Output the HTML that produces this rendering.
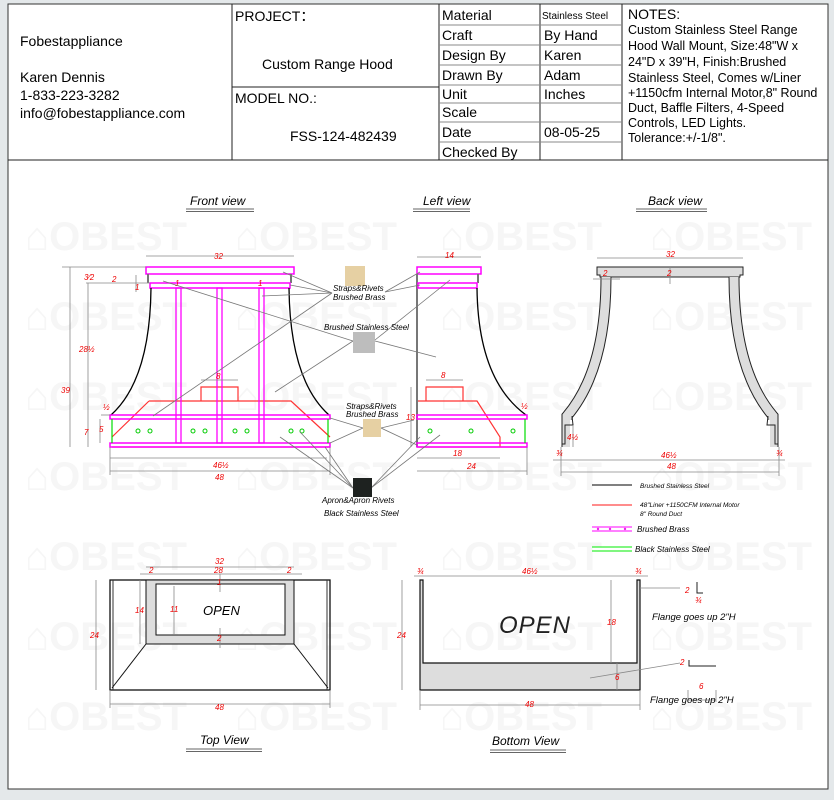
<!DOCTYPE html>
<html><head><meta charset="utf-8"><style>
html,body{margin:0;padding:0;background:#e4e8ea;}
svg{display:block}
.h{font-family:"Liberation Sans",sans-serif;font-size:14px;fill:#000}
.n{font-family:"Liberation Sans",sans-serif;font-size:12.5px;fill:#000}
.r{font-family:"Liberation Sans",sans-serif;font-size:8px;fill:#e00;font-style:italic}
.l{font-family:"Liberation Sans",sans-serif;font-size:8px;fill:#000;font-style:italic}
.t{font-family:"Liberation Sans",sans-serif;font-size:12px;fill:#000;font-style:italic}
.w{font-family:"Liberation Sans",sans-serif;font-size:40px;fill:#f6f6f6;font-weight:bold}
</style></head><body>
<svg width="834" height="800" viewBox="0 0 834 800" xmlns="http://www.w3.org/2000/svg">
<rect x="0" y="0" width="834" height="800" fill="#e4e8ea"/>
<rect x="8" y="4" width="820" height="785" fill="#fff" stroke="#333" stroke-width="1"/>
<g class="w">
<text x="25" y="250">⌂OBEST</text><text x="235" y="250">⌂OBEST</text><text x="440" y="250">⌂OBEST</text><text x="650" y="250">⌂OBEST</text>
<text x="25" y="330">⌂OBEST</text><text x="235" y="330">⌂OBEST</text><text x="440" y="330">⌂OBEST</text><text x="650" y="330">⌂OBEST</text>
<text x="25" y="410">⌂OBEST</text><text x="235" y="410">⌂OBEST</text><text x="440" y="410">⌂OBEST</text><text x="650" y="410">⌂OBEST</text>
<text x="25" y="490">⌂OBEST</text><text x="235" y="490">⌂OBEST</text><text x="440" y="490">⌂OBEST</text><text x="650" y="490">⌂OBEST</text>
<text x="25" y="570">⌂OBEST</text><text x="235" y="570">⌂OBEST</text><text x="440" y="570">⌂OBEST</text><text x="650" y="570">⌂OBEST</text>
<text x="25" y="650">⌂OBEST</text><text x="235" y="650">⌂OBEST</text><text x="440" y="650">⌂OBEST</text><text x="650" y="650">⌂OBEST</text>
<text x="25" y="730">⌂OBEST</text><text x="235" y="730">⌂OBEST</text><text x="440" y="730">⌂OBEST</text><text x="650" y="730">⌂OBEST</text>
</g>
<g stroke="#222" stroke-width="1" fill="none">
<line x1="8" y1="160" x2="828" y2="160"/>
<line x1="232" y1="4" x2="232" y2="160"/>
<line x1="439" y1="4" x2="439" y2="160"/>
<line x1="540" y1="4" x2="540" y2="160"/>
<line x1="622" y1="4" x2="622" y2="160"/>
<line x1="232" y1="87" x2="439" y2="87"/>
<g stroke="#888"><line x1="439" y1="25" x2="622" y2="25"/><line x1="439" y1="45" x2="622" y2="45"/><line x1="439" y1="65" x2="622" y2="65"/><line x1="439" y1="85" x2="622" y2="85"/><line x1="439" y1="103" x2="622" y2="103"/><line x1="439" y1="122" x2="622" y2="122"/><line x1="439" y1="142" x2="622" y2="142"/></g>
</g>
<text class="h" x="20" y="46">Fobestappliance</text>
<text class="h" x="20" y="82">Karen Dennis</text>
<text class="h" x="20" y="100">1-833-223-3282</text>
<text class="h" x="20" y="118">info@fobestappliance.com</text>
<text class="h" x="235" y="21">PROJECT：</text>
<text class="h" x="262" y="69">Custom Range Hood</text>
<text class="h" x="235" y="103">MODEL NO.:</text>
<text class="h" x="290" y="141">FSS-124-482439</text>
<g class="h"><text x="442" y="20">Material</text><text x="442" y="40">Craft</text><text x="442" y="60">Design By</text><text x="442" y="80">Drawn By</text><text x="442" y="99">Unit</text><text x="442" y="117">Scale</text><text x="442" y="137">Date</text><text x="442" y="157">Checked By</text>
<text x="544" y="40">By Hand</text><text x="544" y="60">Karen</text><text x="544" y="80">Adam</text><text x="544" y="99">Inches</text><text x="544" y="137">08-05-25</text></g>
<text x="542" y="19" font-family="Liberation Sans,sans-serif" font-size="10">Stainless Steel</text>
<text class="h" x="628" y="19">NOTES:</text>
<g class="n"><text x="628" y="34">Custom Stainless Steel Range</text><text x="628" y="50">Hood Wall Mount, Size:48"W x</text><text x="628" y="66">24"D x 39"H, Finish:Brushed</text><text x="628" y="82">Stainless Steel, Comes w/Liner</text><text x="628" y="97">+1150cfm Internal Motor,8" Round</text><text x="628" y="112">Duct, Baffle Filters, 4-Speed</text><text x="628" y="127">Controls, LED Lights.</text><text x="628" y="142">Tolerance:+/-1/8".</text></g>
<g class="t"><text x="190" y="205">Front view</text><text x="423" y="205">Left view</text><text x="648" y="205">Back view</text><text x="200" y="744">Top View</text><text x="492" y="745">Bottom View</text></g>
<g stroke="#333" stroke-width="0.8"><line x1="186" y1="209" x2="254" y2="209"/><line x1="186" y1="211.5" x2="254" y2="211.5"/><line x1="413" y1="209" x2="470" y2="209"/><line x1="413" y1="211.5" x2="470" y2="211.5"/><line x1="636" y1="209" x2="707" y2="209"/><line x1="636" y1="211.5" x2="707" y2="211.5"/><line x1="186" y1="749" x2="262" y2="749"/><line x1="186" y1="751.5" x2="262" y2="751.5"/><line x1="490" y1="750" x2="566" y2="750"/><line x1="490" y1="752.5" x2="566" y2="752.5"/></g>
<g fill="none">
<rect x="146" y="267" width="148" height="7" stroke="#f0f" stroke-width="1.5"/>
<line x1="148" y1="274" x2="148" y2="283" stroke="#777" stroke-width="2"/><line x1="291" y1="274" x2="291" y2="283" stroke="#777" stroke-width="2"/>
<rect x="150" y="283" width="140" height="5" stroke="#f0f" stroke-width="1.5"/>
<path d="M151 288 Q150 380 111 415" stroke="#000" stroke-width="1.3"/>
<path d="M289 288 Q290 380 329 415" stroke="#000" stroke-width="1.3"/>
<path d="M149 401 L291 401 L330 437 M149 401 L112 437 M201 401 L201 387 L238 387 L238 401 M112 447 L330 447" stroke="#f33" stroke-width="1.2"/>
<rect x="176" y="288" width="5" height="155" stroke="#f0f" stroke-width="1.3"/>
<rect x="217" y="288" width="5" height="155" stroke="#f0f" stroke-width="1.3"/>
<rect x="259" y="288" width="5" height="155" stroke="#f0f" stroke-width="1.3"/>
<rect x="110" y="415" width="220" height="4" stroke="#f0f" stroke-width="1.5"/>
<rect x="110" y="443" width="220" height="4" stroke="#f0f" stroke-width="1.5"/>
<line x1="112" y1="419" x2="112" y2="443" stroke="#0d0" stroke-width="1.2"/><line x1="328" y1="419" x2="328" y2="443" stroke="#0d0" stroke-width="1.2"/>
<g stroke="#0c0"><circle cx="138" cy="431" r="2"/><circle cx="150" cy="431" r="2"/><circle cx="193" cy="431" r="2"/><circle cx="205" cy="431" r="2"/><circle cx="235" cy="431" r="2"/><circle cx="247" cy="431" r="2"/><circle cx="291" cy="431" r="2"/><circle cx="302" cy="431" r="2"/></g>
<g stroke="#888" stroke-width="0.8"><line x1="146" y1="256" x2="294" y2="256"/><line x1="110" y1="458" x2="327" y2="458"/><line x1="110" y1="471" x2="330" y2="471"/><line x1="110" y1="447" x2="110" y2="475"/><line x1="330" y1="447" x2="330" y2="475"/><line x1="70" y1="267" x2="70" y2="447"/><line x1="62" y1="267" x2="146" y2="267"/><line x1="88" y1="283" x2="88" y2="447"/><line x1="86" y1="283" x2="150" y2="283"/><line x1="101" y1="415" x2="110" y2="415"/><line x1="100" y1="419" x2="100" y2="443"/><line x1="201" y1="380" x2="238" y2="380"/><line x1="136" y1="275" x2="136" y2="292"/></g>
</g>
<g class="r"><text x="214" y="259">32</text><text x="213" y="468">46½</text><text x="215" y="480">48</text><text x="61" y="393">39</text><text x="79" y="352">28½</text><text x="84" y="280">3⁄2</text><text x="112" y="282">2</text><text x="135" y="290">1</text><text x="175" y="286">1</text><text x="258" y="286">1</text><text x="216" y="379">8</text><text x="103" y="410">½</text><text x="99" y="432">5</text><text x="84" y="435">7</text></g>
<g fill="none">
<rect x="417" y="267" width="64" height="7" stroke="#f0f" stroke-width="1.5"/>
<line x1="417" y1="274" x2="417" y2="447" stroke="#777" stroke-width="2"/><line x1="478" y1="274" x2="478" y2="283" stroke="#777" stroke-width="2"/>
<rect x="418" y="283" width="59" height="5" stroke="#f0f" stroke-width="1.5"/>
<path d="M477 288 Q478 380 526 415" stroke="#000" stroke-width="1.3"/>
<path d="M418 401 L477 401 L500 437 L500 447 M426 401 L426 387 L463 387 L463 401 M417 447 L527 447" stroke="#f33" stroke-width="1.2"/>
<rect x="417" y="415" width="110" height="4" stroke="#f0f" stroke-width="1.5"/>
<rect x="417" y="443" width="110" height="4" stroke="#f0f" stroke-width="1.5"/>
<line x1="525" y1="419" x2="525" y2="443" stroke="#0d0" stroke-width="1.2"/>
<g stroke="#0c0"><circle cx="430" cy="431" r="2"/><circle cx="471" cy="431" r="2"/><circle cx="513" cy="431" r="2"/></g>
<g stroke="#888" stroke-width="0.8"><line x1="417" y1="257" x2="481" y2="257"/><line x1="417" y1="458" x2="500" y2="458"/><line x1="417" y1="471" x2="527" y2="471"/><line x1="527" y1="447" x2="527" y2="475"/><line x1="426" y1="380" x2="463" y2="380"/><line x1="411" y1="387" x2="411" y2="447"/></g>
</g>
<g class="r"><text x="445" y="258">14</text><text x="441" y="378">8</text><text x="406" y="420">13</text><text x="453" y="456">18</text><text x="467" y="469">24</text><text x="521" y="409">½</text></g>
<g stroke="#777" stroke-width="0.8">
<line x1="283" y1="272" x2="332" y2="293"/><line x1="290" y1="285" x2="332" y2="293"/><line x1="262" y1="296" x2="332" y2="293"/><line x1="153" y1="416" x2="332" y2="293"/><line x1="420" y1="272" x2="385" y2="292"/><line x1="420" y1="285" x2="385" y2="292"/>
<line x1="163" y1="281" x2="353" y2="341"/><line x1="375" y1="341" x2="436" y2="357"/><line x1="275" y1="392" x2="353" y2="341"/><line x1="375" y1="340" x2="450" y2="280"/>
<line x1="330" y1="418" x2="363" y2="428"/><line x1="330" y1="443" x2="363" y2="428"/><line x1="381" y1="428" x2="414" y2="420"/><line x1="381" y1="428" x2="417" y2="445"/>
<line x1="280" y1="437" x2="353" y2="488"/><line x1="300" y1="432" x2="353" y2="488"/><line x1="325" y1="447" x2="353" y2="488"/><line x1="371" y1="488" x2="420" y2="437"/><line x1="371" y1="488" x2="440" y2="435"/>
</g>
<rect x="345" y="266" width="20" height="20" fill="#e6d0a3"/>
<rect x="353" y="332" width="22" height="21" fill="#bdbdbd"/>
<rect x="363" y="419" width="18" height="18" fill="#e6d0a3"/>
<rect x="353" y="478" width="19" height="19" fill="#1e2220"/>
<g class="l"><text x="333" y="291">Straps&amp;Rivets</text><text x="333" y="300">Brushed Brass</text><text x="324" y="330">Brushed Stainless Steel</text><text x="346" y="409">Straps&amp;Rivets</text><text x="346" y="417">Brushed Brass</text><text x="322" y="503">Apron&amp;Apron Rivets</text><text x="324" y="516">Black Stainless Steel</text></g>
<g fill="none" stroke-linejoin="miter">
<path d="M597 267 L743 267 L743 275 L740 275 L740 277 L600 277 L600 275 L597 275 Z" fill="#ddd" stroke="#222" stroke-width="1"/>
<path d="M606 277 Q606 370 567 416 L567 447" stroke="#222" stroke-width="11"/>
<path d="M606 277 Q606 370 567 416 L567 447" stroke="#ddd" stroke-width="9"/>
<path d="M734 277 Q734 370 773 416 L773 447" stroke="#222" stroke-width="11"/>
<path d="M734 277 Q734 370 773 416 L773 447" stroke="#ddd" stroke-width="9"/>
<rect x="570" y="420" width="10" height="28" fill="#fff"/><rect x="760" y="420" width="10" height="28" fill="#fff"/>
<path d="M572 416 L573 425 L565 425 L565 444 L562 444 L562 447" stroke="#222"/>
<path d="M768 416 L767 425 L775 425 L775 444 L778 444 L778 447" stroke="#222"/>
<g stroke="#888" stroke-width="0.8"><line x1="597" y1="258" x2="743" y2="258"/><line x1="553" y1="460" x2="785" y2="460"/><line x1="561" y1="472" x2="779" y2="472"/><line x1="561" y1="447" x2="561" y2="476"/><line x1="779" y1="447" x2="779" y2="476"/><line x1="670" y1="267" x2="670" y2="284"/><line x1="593" y1="279" x2="620" y2="279"/><line x1="573" y1="425" x2="573" y2="447"/></g>
</g>
<g class="r"><text x="666" y="257">32</text><text x="603" y="276">2</text><text x="667" y="276">2</text><text x="567" y="440">4½</text><text x="556" y="456">¾</text><text x="776" y="456">¾</text><text x="661" y="458">46½</text><text x="667" y="469">48</text></g>
<line x1="592" y1="485" x2="632" y2="485" stroke="#000"/>
<line x1="592" y1="505" x2="632" y2="505" stroke="#f66" stroke-width="1.5"/>
<line x1="592" y1="527" x2="632" y2="527" stroke="#f0f"/><line x1="592" y1="531" x2="632" y2="531" stroke="#f0f"/>
<g fill="#e2e"><circle cx="598" cy="529" r="1.2"/><circle cx="610" cy="529" r="1.2"/><circle cx="625" cy="529" r="1.2"/></g>
<line x1="592" y1="547" x2="632" y2="547" stroke="#0e0"/><line x1="592" y1="551" x2="632" y2="551" stroke="#0e0"/>
<g class="l"><text x="640" y="488" font-size="6.5">Brushed Stainless Steel</text><text x="640" y="507" font-size="6.5">48"Liner +1150CFM Internal Motor</text><text x="640" y="516" font-size="6.5">8" Round Duct</text><text x="637" y="532">Brushed Brass</text><text x="635" y="552">Black Stainless Steel</text></g>
<g fill="none">
<rect x="110" y="580" width="220" height="110" stroke="#111" stroke-width="1.3"/>
<line x1="113" y1="580" x2="113" y2="690" stroke="#333"/><line x1="327" y1="580" x2="327" y2="690" stroke="#333"/>
<path d="M146 580 L294 580 L294 644 L146 644 Z M156 584 L156 635 L285 635 L285 584 Z" fill="#ddd" fill-rule="evenodd" stroke="#111" stroke-width="1"/>
<line x1="146" y1="644" x2="112" y2="688" stroke="#111"/><line x1="294" y1="644" x2="328" y2="688" stroke="#111"/>
<g stroke="#888" stroke-width="0.8"><line x1="146" y1="567" x2="294" y2="567"/><line x1="140" y1="574" x2="302" y2="574"/><line x1="110" y1="704" x2="330" y2="704"/><line x1="110" y1="690" x2="110" y2="708"/><line x1="330" y1="690" x2="330" y2="708"/><line x1="96" y1="580" x2="96" y2="690"/><line x1="140" y1="580" x2="140" y2="644"/><line x1="174" y1="586" x2="174" y2="634"/><line x1="220" y1="574" x2="220" y2="592"/><line x1="220" y1="628" x2="220" y2="648"/></g>
</g>
<g class="r"><text x="215" y="564">32</text><text x="214" y="573">28</text><text x="149" y="573">2</text><text x="287" y="573">2</text><text x="217" y="585">1</text><text x="217" y="641">2</text><text x="90" y="638">24</text><text x="135" y="613">14</text><text x="170" y="612">11</text><text x="215" y="710">48</text></g>
<text x="203" y="615" font-family="Liberation Sans,sans-serif" font-size="13" font-style="italic">OPEN</text>
<g fill="none">
<rect x="420" y="663" width="220" height="27" fill="#ddd"/>
<path d="M420 580 L420 690 L640 690 L640 580 L637 580 L637 663 L423 663 L423 580 Z" fill="#ddd" stroke="#111" stroke-width="1.2"/>
<g stroke="#888" stroke-width="0.8"><line x1="414" y1="576" x2="648" y2="576"/><line x1="420" y1="705" x2="640" y2="705"/><line x1="420" y1="690" x2="420" y2="710"/><line x1="640" y1="690" x2="640" y2="710"/><line x1="402" y1="580" x2="402" y2="690"/><line x1="611" y1="580" x2="611" y2="663"/><line x1="617" y1="663" x2="617" y2="690"/><line x1="640" y1="588" x2="680" y2="588"/><line x1="590" y1="678" x2="680" y2="663"/><line x1="688" y1="700" x2="716" y2="700"/><line x1="688" y1="690" x2="688" y2="702"/><line x1="716" y1="690" x2="716" y2="702"/></g>
<path d="M697 582 L697 593 L703 593 M689 660 L689 666 L716 666" stroke="#222"/>
</g>
<g class="r"><text x="417" y="574">¾</text><text x="635" y="574">¾</text><text x="522" y="574">46½</text><text x="397" y="638">24</text><text x="607" y="625">18</text><text x="615" y="680">6</text><text x="525" y="707">48</text><text x="685" y="593">2</text><text x="695" y="603">¾</text><text x="680" y="665">2</text><text x="699" y="689">6</text></g>
<text x="499" y="633" font-family="Liberation Sans,sans-serif" font-size="24" font-style="italic" fill="#222" letter-spacing="1">OPEN</text>
<g class="l"><text x="652" y="620" font-size="9.5">Flange goes up 2"H</text><text x="650" y="703" font-size="9.5">Flange goes up 2"H</text></g>
</svg>
</body></html>
